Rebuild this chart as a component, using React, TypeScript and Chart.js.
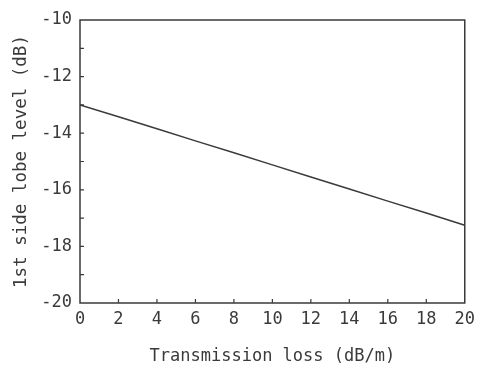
import React, { useEffect, useRef } from "react";
import { Chart, registerables } from "chart.js";

Chart.register(...registerables);

const lossValues = [0, 2, 4, 6, 8, 10, 12, 14, 16, 18, 20];
const sideLobeLevel = [-13.0, -13.42, -13.84, -14.27, -14.69, -15.12, -15.55, -15.97, -16.4, -16.82, -17.25];
const xTickValues = [0, 2, 4, 6, 8, 10, 12, 14, 16, 18, 20];
const yTickValues = [-10, -12, -14, -16, -18, -20];
const yMinorTicks = [-11, -12, -13, -14, -15, -16, -17, -18, -19];
const xMinorTicks = [2, 4, 6, 8, 10, 12, 14, 16, 18];

const FONT = "'DejaVu Sans Mono', 'Liberation Mono', monospace";
const INK = "#3a3a3a";

const framePlugin = {
  id: "frameTicks",
  afterDraw(chart: any) {
    const { ctx, chartArea } = chart;
    const xs = chart.scales.x;
    const ys = chart.scales.y;
    ctx.save();
    ctx.strokeStyle = INK;
    ctx.lineWidth = 1.5;
    ctx.strokeRect(chartArea.left, chartArea.top, chartArea.right - chartArea.left, chartArea.bottom - chartArea.top);
    ctx.lineWidth = 1.2;
    ctx.beginPath();
    for (const v of xMinorTicks) {
      const px = xs.getPixelForValue(v);
      ctx.moveTo(px, chartArea.bottom);
      ctx.lineTo(px, chartArea.bottom - 4);
    }
    for (const v of yMinorTicks) {
      const py = ys.getPixelForValue(v);
      ctx.moveTo(chartArea.left, py);
      ctx.lineTo(chartArea.left + 4, py);
    }
    ctx.stroke();
    ctx.restore();
  },
};

export default function App() {
  const ref = useRef<HTMLCanvasElement | null>(null);
  useEffect(() => {
    document.body.style.margin = "0";
    const canvas = ref.current;
    if (!canvas) return;
    const chart = new Chart(canvas, {
      type: "line",
      data: {
        datasets: [
          {
            data: lossValues.map((x, i) => ({ x, y: sideLobeLevel[i] })),
            borderColor: INK,
            borderWidth: 1.5,
            pointRadius: 0,
            tension: 0,
          },
        ],
      },
      plugins: [framePlugin],
      options: {
        animation: false,
        responsive: false,
        maintainAspectRatio: false,
        layout: { padding: { top: 20, right: 14, left: 0, bottom: 0 } },
        plugins: { legend: { display: false }, tooltip: { enabled: false } },
        scales: {
          x: {
            type: "linear",
            min: 0,
            max: 20,
            afterBuildTicks: (scale: any) => {
              scale.ticks = xTickValues.map((v) => ({ value: v }));
            },
            afterFit: (scale: any) => {
              scale.height = 65;
            },
            grid: { display: false, drawTicks: false },
            border: { display: false },
            ticks: {
              color: INK,
              font: { family: FONT, size: 17 },
              padding: 6,
              maxRotation: 0,
              autoSkip: false,
            },
            title: {
              display: true,
              text: "Transmission loss (dB/m)",
              color: INK,
              font: { family: FONT, size: 17 },
              padding: { top: 2, bottom: 1 },
            },
          },
          y: {
            type: "linear",
            min: -20,
            max: -10,
            afterBuildTicks: (scale: any) => {
              scale.ticks = yTickValues.map((v) => ({ value: v }));
            },
            afterFit: (scale: any) => {
              scale.width = 80;
            },
            grid: { display: false, drawTicks: false },
            border: { display: false },
            ticks: {
              color: INK,
              font: { family: FONT, size: 17 },
              padding: 8,
              autoSkip: false,
            },
            title: {
              display: true,
              text: "1st side lobe level (dB)",
              color: INK,
              font: { family: FONT, size: 17.5 },
              padding: { top: 11, bottom: 4 },
            },
          },
        },
      },
    });
    return () => chart.destroy();
  }, []);
  return (
    <div style={{ width: 481, height: 368, background: "#fff" }}>
      <canvas ref={ref} width={481} height={368} style={{ display: "block" }} />
    </div>
  );
}
